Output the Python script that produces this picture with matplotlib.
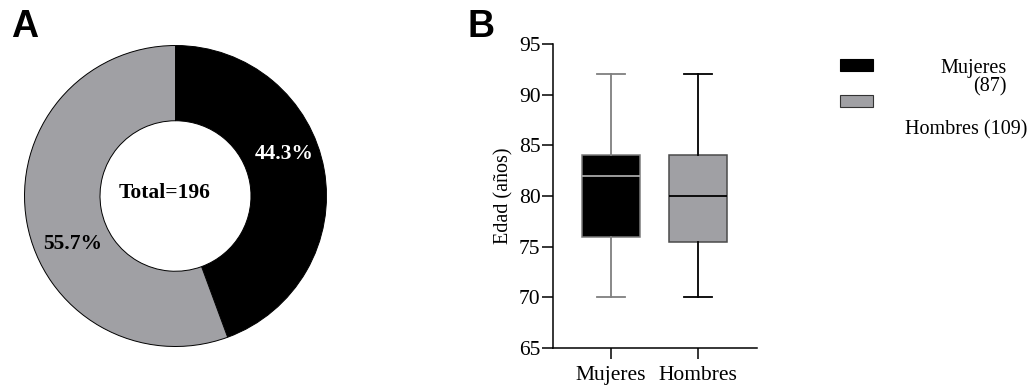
import matplotlib
matplotlib.use("Agg")
import matplotlib.pyplot as plt
from matplotlib.patches import Rectangle

# data
sexos = ["Mujeres", "Hombres"]
n_sexo = [87, 109]
pct_labels = ["44.3%", "55.7%"]
total = 196

# box stats (edad)
whis_lo = [70, 70]
q1 = [76, 75.5]
mediana = [82, 80]
q3 = [84, 84]
whis_hi = [92, 92]

negro = "#000000"
gris = "#A0A0A4"

plt.rcParams["font.family"] = ["Liberation Serif", "DejaVu Serif"]

fig = plt.figure(figsize=(10.31, 3.87), dpi=100)
W, H = 1031, 387

# ---- panel A: donut
axA = fig.add_axes([23 / W, (H - 348) / H, 305 / W, 304 / H])
axA.pie(n_sexo, colors=[negro, gris], startangle=90, counterclock=False,
        radius=1, wedgeprops=dict(width=0.5, edgecolor="black", linewidth=0.7))
axA.set_xlim(-1.01, 1.01)
axA.set_ylim(-1.01, 1.01)
axA.set_aspect("auto")
axA.axis("off")
axA.text(0.72, 0.28, pct_labels[0], color="white", fontsize=15.5, fontweight="bold",
         ha="center", va="center")
axA.text(-0.68, -0.32, pct_labels[1], color="black", fontsize=15.5, fontweight="bold",
         ha="center", va="center")
axA.text(-0.075, 0.02, "Total=%d" % total, color="black", fontsize=15.5, fontweight="bold",
         ha="center", va="center")

fig.text(11 / W, 1 - 27 / H, "A", fontsize=27, fontweight="bold",
         family="Liberation Sans", ha="left", va="center")
fig.text(467 / W, 1 - 27 / H, "B", fontsize=27, fontweight="bold",
         family="Liberation Sans", ha="left", va="center")

# ---- panel B: boxplot
axB = fig.add_axes([553 / W, (H - 348) / H, 204 / W, 304 / H])
caras = [negro, gris]
bordes = ["#7a7a7a", "#4a4a4a"]
lineas = ["#7f7f7f", "#000000"]
medianas = ["#a8a8a8", "#000000"]
for i in range(len(sexos)):
    st = [dict(whislo=whis_lo[i], q1=q1[i], med=mediana[i], q3=q3[i],
               whishi=whis_hi[i], fliers=[])]
    axB.bxp(st, positions=[i + 1], widths=0.66, patch_artist=True, showfliers=False,
            boxprops=dict(facecolor=caras[i], edgecolor=bordes[i], linewidth=1.1),
            whiskerprops=dict(color=lineas[i], linewidth=1.3),
            capprops=dict(color=lineas[i], linewidth=1.3),
            medianprops=dict(color=medianas[i], linewidth=1.3),
            capwidths=0.32)

axB.set_xlim(0.333, 2.678)
axB.set_ylim(65, 95)
axB.set_yticks(range(65, 96, 5))
axB.set_xticks([1, 2])
axB.set_xticklabels(sexos)
axB.spines["top"].set_visible(False)
axB.spines["right"].set_visible(False)
axB.spines["left"].set_linewidth(1.1)
axB.spines["bottom"].set_linewidth(1.1)
axB.tick_params(axis="both", direction="out", length=8, width=1.1, labelsize=15.5)
axB.tick_params(axis="x", pad=5)
axB.tick_params(axis="y", pad=1)
axB.set_ylabel("Edad (años)", fontsize=14.5, labelpad=4)

# ---- legend (manual)
fig.patches.append(Rectangle((840 / W, 1 - 71 / H), 33 / W, 12 / H,
                             transform=fig.transFigure, facecolor=negro,
                             edgecolor="black", linewidth=0.8))
fig.patches.append(Rectangle((840 / W, 1 - 107 / H), 33 / W, 12 / H,
                             transform=fig.transFigure, facecolor=gris,
                             edgecolor="#333333", linewidth=0.8))
fig.text(1007 / W, 1 - 68 / H, "%s" % sexos[0], fontsize=14.5, ha="right", va="center")
fig.text(1007 / W, 1 - 87 / H, "(%d)" % n_sexo[0], fontsize=14.5, ha="right", va="center")
fig.text(1027 / W, 1 - 130 / H, "%s (%d)" % (sexos[1], n_sexo[1]), fontsize=14.5,
         ha="right", va="center")

fig.savefig("out.png", dpi=100)
